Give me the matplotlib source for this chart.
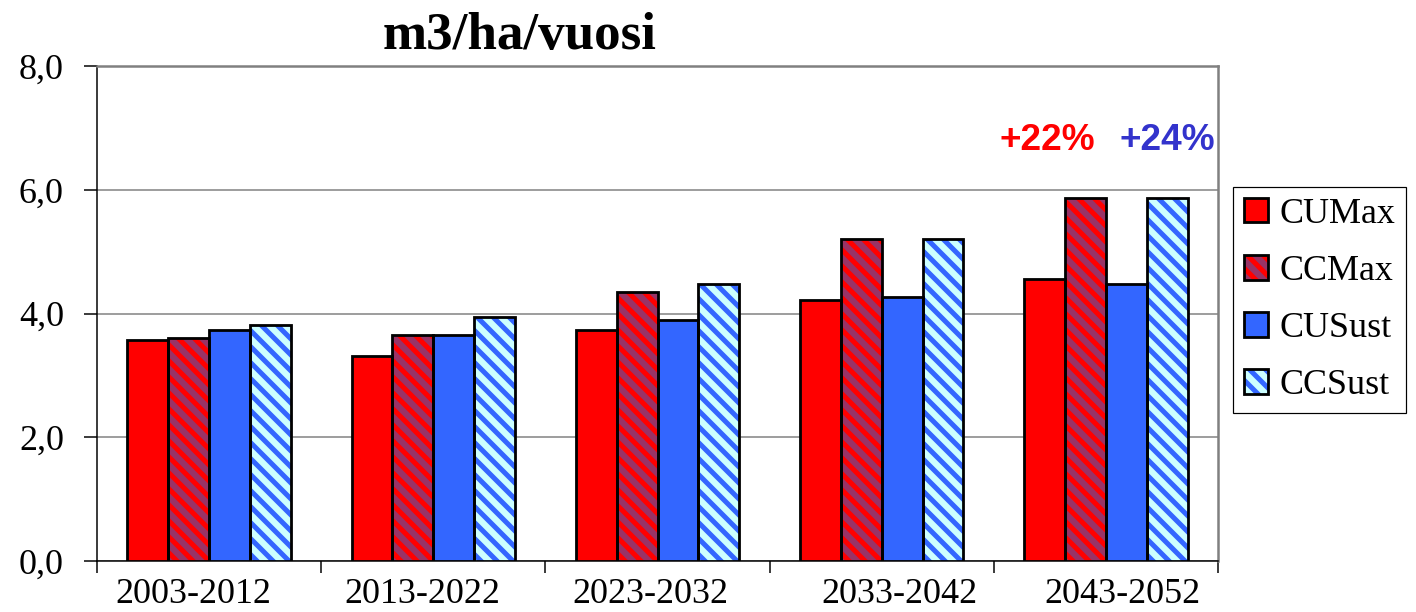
import matplotlib
matplotlib.use("Agg")
import matplotlib.pyplot as plt
from matplotlib.patches import Patch
from matplotlib.legend_handler import HandlerTuple
from matplotlib.ticker import FuncFormatter, FixedLocator
from matplotlib.transforms import ScaledTranslation
import numpy as np

categories = ["2003-2012", "2013-2022", "2023-2032", "2033-2042", "2043-2052"]
series_names = ["CUMax", "CCMax", "CUSust", "CCSust"]
cumax = [3.57, 3.32, 3.73, 4.22, 4.56]
ccmax = [3.61, 3.66, 4.35, 5.20, 5.87]
cusust = [3.73, 3.66, 3.89, 4.27, 4.48]
ccsust = [3.82, 3.94, 4.47, 5.20, 5.87]
pct_labels = ["+22%", "+24%"]
title = "m3/ha/vuosi"

DPI = 96


def pt(px):
    return px * 72.0 / DPI


plt.rcParams["hatch.linewidth"] = pt(5.0)
fig = plt.figure(figsize=(1416 / DPI, 612 / DPI), dpi=DPI)
ax = fig.add_axes([97 / 1416, 51 / 612, 1121 / 1416, 495 / 612])

serif = "Liberation Serif"
sans = "Liberation Sans"

styles = [
    dict(face="#FF0000", hatch=None, hcolor=None),
    dict(face="#993366", hatch="\\\\", hcolor="#FF0000"),
    dict(face="#3366FF", hatch=None, hcolor=None),
    dict(face="#CCFFFF", hatch="\\\\", hcolor="#3366FF"),
]
data = [cumax, ccmax, cusust, ccsust]
x = np.arange(len(categories))
w = 0.182
handles = []
for k, (vals, st) in enumerate(zip(data, styles)):
    xs = x + (k - 1.5) * w
    ax.bar(xs, vals, w, color=st["face"], linewidth=0, zorder=3)
    if st["hatch"]:
        ax.bar(xs, vals, w, facecolor="none", edgecolor=st["hcolor"],
               hatch=st["hatch"], linewidth=0, zorder=4)
    ax.bar(xs, vals, w, fill=False, edgecolor="black", linewidth=pt(2.8), zorder=5)
    parts = [Patch(facecolor=st["face"], edgecolor="none", linewidth=0)]
    if st["hatch"]:
        parts.append(Patch(facecolor="none", edgecolor=st["hcolor"],
                           hatch=st["hatch"], linewidth=0))
    parts.append(Patch(fill=False, edgecolor="black", linewidth=pt(2.8)))
    handles.append(tuple(parts))

ax.set_xlim(-0.5, len(categories) - 0.5)
ax.set_ylim(0, 8)
ax.set_yticks([0, 2, 4, 6, 8])
ax.yaxis.set_major_formatter(FuncFormatter(lambda v, p: f"{v:.1f}".replace(".", ",")))
ax.set_xticks(x)
ax.set_xticklabels(categories)
ax.xaxis.set_minor_locator(FixedLocator(np.arange(-0.5, len(categories), 1.0)))
ax.tick_params(axis="x", which="major", length=0, pad=pt(17))
ax.tick_params(axis="x", which="minor", length=pt(12), width=pt(1.5), direction="out", color="black")
ax.tick_params(axis="y", which="major", length=pt(13), width=pt(1.5), direction="out", pad=pt(20))
for lab in ax.get_xticklabels() + ax.get_yticklabels():
    lab.set_fontfamily(serif)
    lab.set_fontsize(pt(36))

# horizontal nudges of category labels, as placed in the original (pixels)
label_shift_px = [-16, -11, -7.5, 17.5, 16.5]
for lab, dx in zip(ax.get_xticklabels(), label_shift_px):
    lab.set_transform(lab.get_transform() + ScaledTranslation(dx / DPI, 0, fig.dpi_scale_trans))

ax.grid(axis="y", color="#808080", linewidth=pt(1.5), zorder=0)
ax.set_axisbelow(True)
ax.spines["top"].set_color("#808080")
ax.spines["right"].set_color("#808080")
ax.spines["top"].set_linewidth(pt(2.5))
ax.spines["right"].set_linewidth(pt(2.5))
ax.spines["left"].set_linewidth(pt(1.5))
ax.spines["bottom"].set_linewidth(pt(1.5))

ax.text(3.737, 6.8, pct_labels[0], color="#FF0000", fontsize=pt(37), fontweight="bold",
        fontfamily=sans, ha="center", va="center", zorder=6)
ax.text(4.273, 6.8, pct_labels[1], color="#3333CC", fontsize=pt(37), fontweight="bold",
        fontfamily=sans, ha="center", va="center", zorder=6, clip_on=False)

fig.text(520 / 1416, 1 - 36 / 612, title, fontsize=pt(53), fontweight="bold",
         fontfamily=serif, ha="center", va="center")

leg = fig.legend(handles, series_names, handler_map={tuple: HandlerTuple(ndivide=1, pad=0)},
                 loc="upper left", bbox_to_anchor=(1233 / 1416, 1 - 187 / 612),
                 bbox_transform=fig.transFigure, borderaxespad=0,
                 prop={"family": serif, "size": pt(36)}, frameon=True, fancybox=False,
                 edgecolor="black", framealpha=1, handlelength=0.67, handleheight=0.67,
                 handletextpad=0.32, labelspacing=0.67, borderpad=0.3)
leg.get_frame().set_linewidth(pt(1.2))

fig.savefig("out.png", dpi=DPI)
